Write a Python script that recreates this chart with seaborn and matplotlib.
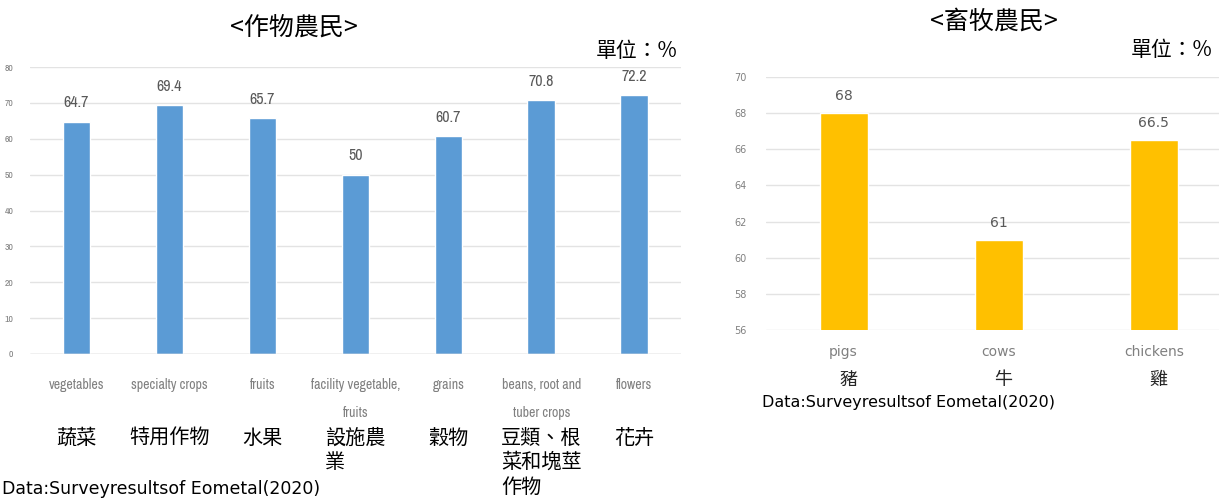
import matplotlib
matplotlib.use('Agg')
import matplotlib.pyplot as plt
from matplotlib import font_manager
import seaborn as sns
import pandas as pd

# data
crop_labels = ['vegetables', 'specialty crops', 'fruits', 'facility vegetable,\nfruits',
               'grains', 'beans, root and\ntuber crops', 'flowers']
crop_values = [64.7, 69.4, 65.7, 50, 60.7, 70.8, 72.2]
crop_zh = ['蔬菜', '特用作物', '水果', '設施農\n業', '穀物', '豆類、根\n菜和塊莖\n作物', '花卉']

livestock_labels = ['pigs', 'cows', 'chickens']
livestock_values = [68, 61, 66.5]
livestock_zh = ['豬', '牛', '雞']

crop_ticks = list(range(0, 81, 10))
livestock_ticks = list(range(56, 71, 2))

sns.set_theme(style='white')

# look for a narrow font for the squeezed left chart
fonts = font_manager.fontManager.ttflist
narrow, stretch = 'Liberation Sans', 'normal'
for f in fonts:
    if 'Narrow' in f.name or 'Condensed' in f.name:
        narrow = f.name
        break
else:
    for f in fonts:
        if str(f.stretch) in ('condensed', 'semi-condensed', '75', '87', 'extra-condensed'):
            narrow, stretch = f.name, f.stretch
            break

cjk = ['Noto Sans CJK TC', 'DejaVu Sans']
plt.rcParams['font.family'] = cjk

gray = '#595959'
lgray = '#808080'
grid = '#E3E3E3'

fig = plt.figure(figsize=(12.19, 4.99), dpi=100)

# ---- crops
ax1 = fig.add_axes([0.0246, 0.2906, 0.534, 0.575])
df1 = pd.DataFrame({'crop': crop_labels, 'pct': crop_values})
sns.barplot(data=df1, x='crop', y='pct', color='#5B9BD5', saturation=1, width=0.3, ax=ax1)
ax1.set_ylim(0, 80)
ax1.set_xlim(-0.5, 6.5)
ax1.set_yticks(crop_ticks)
ax1.yaxis.grid(True, color=grid, lw=1)
ax1.set_axisbelow(True)
for s in ax1.spines.values():
    s.set_visible(False)
ax1.axhline(0, color='#D0D0D0', lw=1)
ax1.set_xlabel('')
ax1.set_ylabel('')
ax1.tick_params(axis='y', length=0, labelsize=7, labelcolor=lgray, pad=12)
ax1.tick_params(axis='x', length=0, labelsize=10, labelcolor=lgray, pad=17)
for t in ax1.get_xticklabels() + ax1.get_yticklabels():
    t.set_family(narrow)
    t.set_stretch(stretch)
for t in ax1.get_xticklabels():
    t.set_linespacing(2.3)
for i, v in enumerate(crop_values):
    ax1.text(i, v + 3.2, f'{v:g}', ha='center', va='bottom', fontsize=11.5,
             color=gray, family=narrow, stretch=stretch)

# chinese names under each crop
for i, s in enumerate(crop_zh):
    ax1.annotate(s, xy=(i, 0), xycoords=('data', 'axes fraction'), xytext=(0, -53),
                 textcoords='offset points', ha='center', va='top', ma='left',
                 fontsize=14.5, color='black', linespacing=1.22)

# ---- livestock
ax2 = fig.add_axes([0.6284, 0.3387, 0.3716, 0.507])
df2 = pd.DataFrame({'animal': livestock_labels, 'pct': livestock_values})
sns.barplot(data=df2, x='animal', y='pct', color='#FFC000', saturation=1, width=0.31, ax=ax2)
ax2.set_ylim(56, 70)
ax2.set_xlim(-0.5, 2.42)
ax2.set_yticks(livestock_ticks)
ax2.yaxis.grid(True, color=grid, lw=1)
ax2.set_axisbelow(True)
for s in ax2.spines.values():
    s.set_visible(False)
ax2.set_xlabel('')
ax2.set_ylabel('')
ax2.tick_params(axis='y', length=0, labelsize=7, labelcolor=lgray, pad=14)
ax2.tick_params(axis='x', length=0, labelsize=10, labelcolor=lgray, pad=11)
for t in ax2.get_xticklabels() + ax2.get_yticklabels():
    t.set_family('DejaVu Sans')
for i, v in enumerate(livestock_values):
    ax2.text(i, v + 0.55, f'{v:g}', ha='center', va='bottom', fontsize=10,
             color=gray, family='DejaVu Sans')

for i, s in enumerate(livestock_zh):
    ax2.annotate(s, xy=(i, 0), xycoords=('data', 'axes fraction'), xytext=(3.5, -36),
                 textcoords='offset points', ha='center', va='center', fontsize=13)

# ---- titles, units, sources
fig.text(0.241, 0.944, '<作物農民>', ha='center', va='center', fontsize=18, color='black')
fig.text(0.556, 0.897, '單位：%', ha='right', va='center', fontsize=15, color='black')
fig.text(0.815, 0.956, '<畜牧農民>', ha='center', va='center', fontsize=18, color='black')
fig.text(0.995, 0.9, '單位：%', ha='right', va='center', fontsize=15, color='black')

fig.text(2 / 1219, 1 - 489 / 499, 'Data:Surveyresultsof Eometal(2020)', ha='left',
         va='center', fontsize=12.5, color='black', family='DejaVu Sans')
fig.text(762 / 1219, 1 - 402 / 499, 'Data:Surveyresultsof Eometal(2020)', ha='left',
         va='center', fontsize=11.5, color='black', family='DejaVu Sans')

fig.savefig('out.png', dpi=100)
